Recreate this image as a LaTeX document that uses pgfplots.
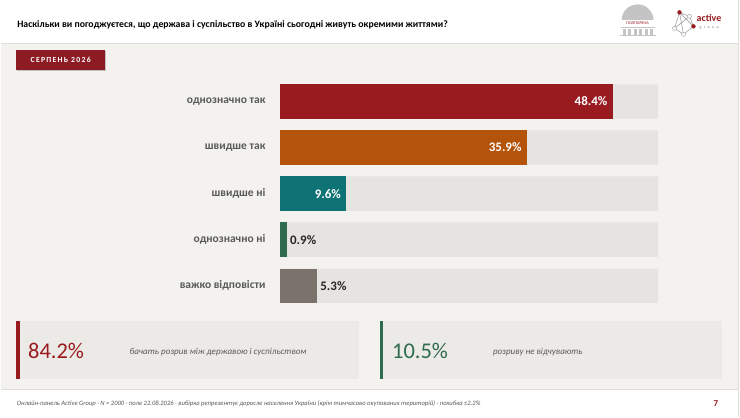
\documentclass[border=0pt]{standalone}
\usepackage{pgfplots}
\pgfplotsset{compat=1.18}
\usepackage{fontspec}
\setmainfont{Carlito}
\definecolor{bg}{HTML}{F3F2EE}
\definecolor{track}{HTML}{E6E4E1}
\definecolor{cA}{HTML}{9A1B1F}
\definecolor{cB}{HTML}{B4530A}
\definecolor{cC}{HTML}{0F7274}
\definecolor{cD}{HTML}{2E6B4F}
\definecolor{cE}{HTML}{7B726B}
\definecolor{badge}{HTML}{8C1B24}
\definecolor{boxbg}{HTML}{ECEAE6}
\definecolor{labgray}{HTML}{595959}
\definecolor{sepline}{HTML}{E0DEDA}
\definecolor{logogray}{HTML}{C4C4C4}
\begin{document}
\begin{tikzpicture}
% background bands
\fill[bg] (0pt,0pt) rectangle (740pt,-417pt);
\fill[white] (0pt,0pt) rectangle (740pt,-43.5pt);
\draw[sepline,line width=1.2pt] (0pt,-43.5pt) -- (740pt,-43.5pt);
\fill[white] (0pt,-390pt) rectangle (740pt,-417pt);
\draw[sepline,line width=1.2pt] (0pt,-390pt) -- (740pt,-390pt);
\draw[sepline,line width=0.8pt] (739.4pt,0pt) -- (739.4pt,-417pt);
% title
\node[anchor=base west,inner sep=0pt] at (16.5pt,-27pt)
  {\fontsize{9.8}{11}\selectfont\bfseries Наскільки ви погоджуєтеся, що держава і суспільство в Україні сьогодні живуть окремими життями?};
% logos
\fill[logogray] (622pt,-20pt) arc[start angle=180,end angle=0,radius=16pt] -- cycle;
\fill[white] (619pt,-20pt) rectangle (657pt,-25.5pt);
\node[inner sep=0pt,text=cA] at (638pt,-22.6pt) {\fontsize{4.2}{5}\selectfont ПОЛІТАРЕНА};
\fill[logogray] (621pt,-26.5pt) rectangle (655pt,-28pt);
\foreach \cx in {623,628.5,634,639.5,645,650.5}{\fill[logogray] (\cx pt,-28.5pt) rectangle (\cx pt+3pt,-35pt);}
\fill[logogray] (620pt,-34.5pt) rectangle (656pt,-36pt);
\draw[gray!70,line width=0.6pt] (680pt,-12pt) -- (690pt,-16pt) -- (694pt,-26pt) -- (684pt,-34pt) -- (675pt,-28pt) -- (680pt,-12pt) -- (694pt,-26pt);
\draw[gray!70,line width=0.6pt] (690pt,-16pt) -- (675pt,-28pt) (684pt,-34pt) -- (680pt,-12pt);
\foreach \p in {(675pt,-28pt),(684pt,-34pt),(690pt,-16pt)}{\draw[gray!70,fill=white,line width=0.5pt] \p circle (2pt);}
\fill[cA] (680pt,-12pt) circle (2.2pt);
\fill[cA] (694pt,-26pt) circle (2.2pt);
\node[anchor=base west,inner sep=0pt,text=cA] at (697pt,-21pt) {\fontsize{10}{12}\selectfont\bfseries active};
\node[anchor=base west,inner sep=0pt,text=gray] at (700pt,-28.5pt) {\fontsize{4}{5}\selectfont\addfontfeature{LetterSpace=60}group};
% badge
\fill[black!25] (16.4pt,-50.8pt) rectangle (105.5pt,-70.3pt);
\fill[badge] (15.6pt,-50pt) rectangle (104.7pt,-69.5pt);
\node[text=white,inner sep=0pt] at (60.2pt,-59.7pt) {\fontsize{7.8}{9}\selectfont\bfseries\addfontfeature{LetterSpace=16}СЕРПЕНЬ 2026};
% chart
\begin{axis}[
  at={(280.3pt,-84pt)}, anchor=north west,
  width=378.4pt, height=219pt, scale only axis,
  xmin=0, xmax=55, ymin=-0.373, ymax=4.373, y dir=reverse,
  bar width=34.4pt,
  axis line style={draw=none}, xtick=\empty,
  ytick={0,1,2,3,4},
  yticklabels={однозначно так, швидше так, швидше ні, однозначно ні, важко відповісти},
  major tick length=0pt,
  yticklabel style={font=\fontsize{11.5}{13}\selectfont\bfseries, text=labgray, xshift=-11.5pt},
  /pgf/number format/assume math mode=true,
  clip=false,
  point meta=x,
  nodes near coords={\pgfmathprintnumber[fixed,precision=1,fixed zerofill]{\pgfplotspointmeta}\%},
  every node near coord/.append style={font=\fontsize{13}{15}\selectfont\bfseries},
]
\addplot[xbar, bar shift=0pt, fill=track, draw=none, nodes near coords=] coordinates {(55,0) (55,1) (55,2) (55,3) (55,4)};
\addplot[xbar, bar shift=0pt, fill=cA, draw=none, nodes near coords style={anchor=east, text=white, xshift=-2pt}] coordinates {(48.4,0)};
\addplot[xbar, bar shift=0pt, fill=cB, draw=none, nodes near coords style={anchor=east, text=white, xshift=-2pt}] coordinates {(35.9,1)};
\addplot[xbar, bar shift=0pt, fill=cC, draw=none, nodes near coords style={anchor=east, text=white, xshift=-2pt}] coordinates {(9.6,2)};
\addplot[xbar, bar shift=0pt, fill=cD, draw=none, nodes near coords style={anchor=west, text=black!85}] coordinates {(0.9,3)};
\addplot[xbar, bar shift=0pt, fill=cE, draw=none, nodes near coords style={anchor=west, text=black!85}] coordinates {(5.3,4)};
\end{axis}
% summary boxes
\fill[boxbg] (15.6pt,-321pt) rectangle (359pt,-379pt);
\fill[cA] (15.6pt,-321pt) rectangle (19pt,-379pt);
\node[anchor=base west,inner sep=0pt,text=cA] at (27.4pt,-358.3pt) {\fontsize{22.5}{26}\selectfont 84.2\%};
\node[anchor=base west,inner sep=0pt,text=labgray] at (129pt,-354.5pt) {\fontsize{9}{11}\selectfont\itshape бачать розрив між державою і суспільством};
\fill[boxbg] (380pt,-321pt) rectangle (723pt,-379pt);
\fill[cD] (380pt,-321pt) rectangle (383.5pt,-379pt);
\node[anchor=base west,inner sep=0pt,text=cD] at (392pt,-358.3pt) {\fontsize{22.5}{26}\selectfont 10.5\%};
\node[anchor=base west,inner sep=0pt,text=labgray] at (493pt,-354.5pt) {\fontsize{9}{11}\selectfont\itshape розриву не відчувають};
% footer
\node[anchor=base west,inner sep=0pt,text=labgray] at (16pt,-405.5pt) {\fontsize{6.6}{8}\selectfont\itshape Онлайн-панель Active Group · N = 2000 · поле 22.08.2026 · вибірка репрезентує доросле населення України (крім тимчасово окупованих територій) · похибка ±2.2\%};
\node[anchor=base west,inner sep=0pt,text=cA] at (714pt,-406.5pt) {\fontsize{9}{11}\selectfont\bfseries 7};
\end{tikzpicture}
\end{document}
